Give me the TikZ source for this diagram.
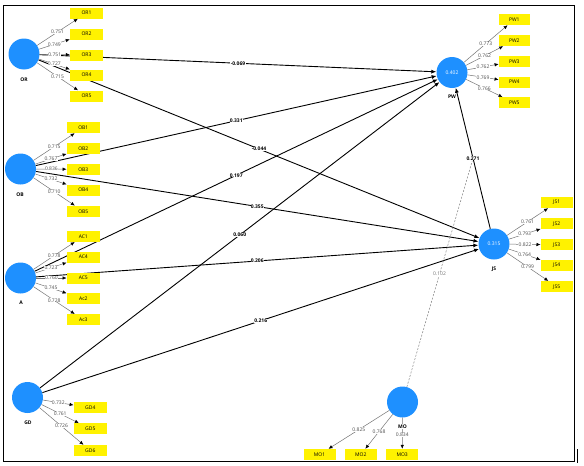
\documentclass[tikz,border=0pt]{standalone}
\usepackage{fontspec}
\setmainfont{Open Sans}
\usetikzlibrary{arrows.meta}
\definecolor{lvblue}{RGB}{30,144,255}
\begin{document}
\begin{tikzpicture}[x=1pt,y=-1pt,
  font=\fontsize{5}{6}\selectfont,
  lv/.style={circle,fill=lvblue,minimum size=31pt,inner sep=0pt,text=white},
  ind/.style={fill=yellow,minimum width=33pt,minimum height=11pt,inner sep=0pt},
  pth/.style={black,line width=0.9pt,-{Latex[length=5pt,width=4pt]}},
  load/.style={black!55,line width=0.5pt,-{Latex[length=4pt,width=3.5pt,color=black]}},
  plab/.style={midway,fill=white,inner sep=0.3pt,font=\fontsize{5}{6}\selectfont\bfseries},
  llab/.style={midway,fill=white,inner sep=0.3pt,text=black!70},
  lvlab/.style={font=\fontsize{5}{6}\selectfont\bfseries},
  modline/.style={black!50,line width=0.5pt,dash pattern=on 2pt off 1.5pt}
]
\useasboundingbox (0,0) rectangle (584,466);
\draw[line width=1pt] (3,5) rectangle (574,461);
\draw[line width=1pt] (577,449) -- (577,463);

% latent variables
\node[lv] (OR) at (24,54) {};
\node[lv] (OB) at (20.5,169) {};
\node[lv] (A) at (20.5,278) {};
\node[lv] (GD) at (27.5,397.5) {};
\node[lv] (PW) at (452,72.5) {0.402};
\node[lv] (JS) at (494,244) {0.315};
\node[lv] (MO) at (402.5,402) {};

\node[lvlab] (ORl) at (24,80) {OR};
\node[lvlab] (OBl) at (20,195) {OB};
\node[lvlab] (Al) at (21,303) {A};
\node[lvlab] (GDl) at (28,423) {GD};
\node[lvlab] (PWl) at (452,97) {PW};
\node[lvlab] (JSl) at (494,269) {JS};

% structural paths
\draw[pth] (OR) -- (PW) node[plab] {-0.069};
\draw[pth] (OR) -- (JS) node[plab] {-0.044};
\draw[pth] (OB) -- (PW) node[plab] {0.331};
\draw[pth] (OB) -- (JS) node[plab] {0.355};
\draw[pth] (A) -- (PW) node[plab] {0.197};
\draw[pth] (A) -- (JS) node[plab] {0.206};
\draw[pth] (GD) -- (PW) node[plab] {0.060};
\draw[pth] (GD) -- (JS) node[plab] {0.216};
\draw[pth] (JS) -- (PW) node[plab] (l271) {0.271};
\draw[modline] (MO) -- (l271) node[midway,fill=white,inner sep=0.3pt,text=black!55] {0.102};

% indicators
\foreach \n/\y in {OR1/13,OR2/34,OR3/55,OR4/75,OR5/96}
  \node[ind] (\n) at (86.5,\y) {\n};
\foreach \n/\y in {OB1/127.5,OB2/148.3,OB3/169.3,OB4/190,OB5/211.3}
  \node[ind] (\n) at (83.3,\y) {\n};
\foreach \n/\y in {AC1/236.3,AC4/257,AC5/278,Ac2/298.8,Ac3/319.7}
  \node[ind] (\n) at (83.3,\y) {\n};
\foreach \n/\y in {GD4/407.8,GD5/428.8,GD6/450.5}
  \node[ind] (\n) at (90.3,\y) {\n};
\foreach \n/\y in {PW1/19.5,PW2/40.5,PW3/61.3,PW4/82,PW5/102.8}
  \node[ind,minimum width=31pt] (\n) at (514.3,\y) {\n};
\foreach \n/\y in {JS1/202.5,JS2/223.7,JS3/244.7,JS4/265.3,JS5/286.7}
  \node[ind,minimum width=32pt] (\n) at (556.7,\y) {\n};
\foreach \n/\x in {MO1/319.5,MO2/360.8,MO3/402.2}
  \node[ind,minimum width=32pt] (\n) at (\x,454.5) {\n};

% loadings
\foreach \t/\v in {OR1/0.751,OR2/0.749,OR3/0.751,OR4/0.727,OR5/0.715}
  \draw[load] (OR) -- (\t) node[llab] {\v};
\foreach \t/\v in {OB1/0.715,OB2/0.767,OB3/0.836,OB4/0.732,OB5/0.710}
  \draw[load] (OB) -- (\t) node[llab] {\v};
\foreach \t/\v in {AC1/0.778,AC4/0.723,AC5/0.760,Ac2/0.745,Ac3/0.728}
  \draw[load] (A) -- (\t) node[llab] {\v};
\foreach \t/\v in {GD4/0.732,GD5/0.761,GD6/0.726}
  \draw[load] (GD) -- (\t) node[llab] {\v};
\foreach \t/\v in {PW1/0.773,PW2/0.762,PW3/0.762,PW4/0.769,PW5/0.766}
  \draw[load] (PW) -- (\t) node[llab] {\v};
\foreach \t/\v in {JS1/0.761,JS2/0.793,JS3/0.822,JS4/0.764,JS5/0.799}
  \draw[load] (JS) -- (\t) node[llab] {\v};
\draw[load] (MO) -- (MO1) node[llab] {0.825};
\draw[load] (MO) -- (MO2) node[llab] {0.768};
\draw[load] (MO) -- (MO3) node[llab,pos=0.55] {0.834};
\node[lvlab,fill=white,inner sep=0.3pt] (MOl) at (402.5,426.5) {MO};
\end{tikzpicture}
\end{document}
